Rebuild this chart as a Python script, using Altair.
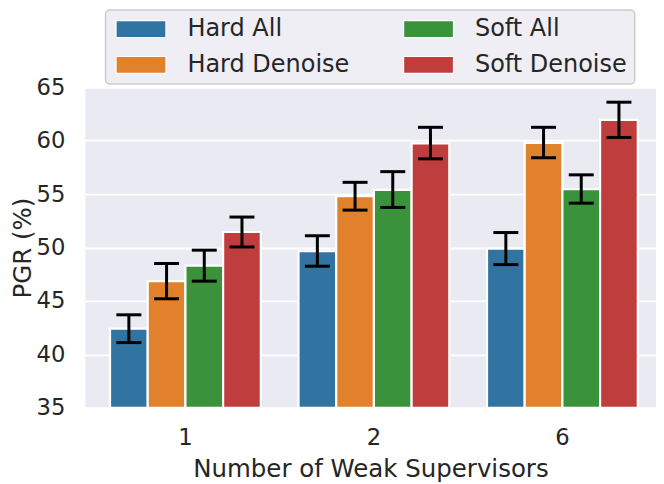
import altair as alt
import pandas as pd

# ---- data ----
groups = ["1", "2", "6"]
methods = ["Hard All", "Hard Denoise", "Soft All", "Soft Denoise"]
method_colors = ["#3274a1", "#e1812c", "#3a923a", "#c03d3e"]

hard_all = [42.4, 49.65, 49.9]
hard_all_lo = [41.1, 48.25, 48.4]
hard_all_hi = [43.7, 51.1, 51.4]

hard_denoise = [46.85, 54.8, 59.8]
hard_denoise_lo = [45.2, 53.5, 58.4]
hard_denoise_hi = [48.5, 56.1, 61.25]

soft_all = [48.3, 55.4, 55.45]
soft_all_lo = [46.85, 53.75, 54.15]
soft_all_hi = [49.75, 57.1, 56.8]

soft_denoise = [51.45, 59.75, 61.95]
soft_denoise_lo = [50.05, 58.3, 60.3]
soft_denoise_hi = [52.85, 61.25, 63.6]

y_ticks = [35, 40, 45, 50, 55, 60, 65]

series = {
    "Hard All": (hard_all, hard_all_lo, hard_all_hi),
    "Hard Denoise": (hard_denoise, hard_denoise_lo, hard_denoise_hi),
    "Soft All": (soft_all, soft_all_lo, soft_all_hi),
    "Soft Denoise": (soft_denoise, soft_denoise_lo, soft_denoise_hi),
}

rows = []
for i, g in enumerate(groups):
    for m in methods:
        v, lo, hi = series[m]
        rows.append({"group": g, "method": m, "value": v[i], "lo": lo[i], "hi": hi[i]})
df = pd.DataFrame(rows)

FONT = "DejaVu Sans"
TXT = "#262626"

x_enc = alt.X(
    "group:N",
    sort=groups,
    title="Number of Weak Supervisors",
    scale=alt.Scale(paddingInner=0.2, paddingOuter=0.115, align=0.58),
    axis=alt.Axis(labelAngle=0, labelPadding=19, titlePadding=8, grid=False),
)
xo_enc = alt.XOffset(
    "method:N", sort=methods,
    scale=alt.Scale(domain=methods, paddingInner=0, paddingOuter=0),
)
y_scale = alt.Scale(domain=[35, 65], nice=False, zero=False)

base = alt.Chart(df)

bars = base.mark_bar(stroke="white", strokeWidth=2.2).encode(
    x=x_enc,
    xOffset=xo_enc,
    y=alt.Y(
        "value:Q",
        scale=y_scale,
        title="PGR (%)",
        axis=alt.Axis(values=y_ticks, labelPadding=20, titlePadding=1, grid=True),
    ),
    y2=alt.datum(35),
    color=alt.Color(
        "method:N",
        scale=alt.Scale(domain=methods, range=method_colors),
        legend=alt.Legend(
            title=None,
            orient="none",
            legendX=20.7,
            legendY=-77.3,
            columns=2,
            symbolType="M-1,-1H4.88V1H-1Z",
            symbolSize=289,
            symbolStrokeColor="white",
            symbolStrokeWidth=1.2,
            symbolOpacity=1,
            labelFont=FONT,
            labelFontSize=24,
            labelColor=TXT,
            labelOffset=51,
            labelLimit=400,
            columnPadding=50,
            rowPadding=12,
            padding=7,
            fillColor="#EEEEF4",
            strokeColor="#CCCCCC",
            cornerRadius=4,
        ),
    ),
)

err = base.mark_rule(color="black", strokeWidth=3).encode(
    x=x_enc, xOffset=xo_enc,
    y=alt.Y("lo:Q", scale=y_scale),
    y2="hi:Q",
)
cap_lo = base.mark_tick(color="black", thickness=3, size=25, orient="horizontal", opacity=1).encode(
    x=x_enc, xOffset=xo_enc, y=alt.Y("lo:Q", scale=y_scale),
)
cap_hi = base.mark_tick(color="black", thickness=3, size=25, orient="horizontal", opacity=1).encode(
    x=x_enc, xOffset=xo_enc, y=alt.Y("hi:Q", scale=y_scale),
)

chart = (
    alt.layer(bars, err, cap_lo, cap_hi)
    .properties(width=572, height=321, padding={"left": 2, "top": 0, "right": 0, "bottom": 2})
    .configure_view(fill="#EAEAF2", stroke="transparent")
    .configure_axis(
        labelFont=FONT, titleFont=FONT,
        labelFontSize=22.7, titleFontSize=24.5,
        labelColor=TXT, titleColor=TXT,
        titleFontWeight="normal",
        domain=False, ticks=False, tickSize=0,
        gridColor="white", gridWidth=1.8, gridOpacity=1,
    )
    .configure_legend(strokeWidth=1.5)
)

chart.save("out.html", embed_options={"renderer": "svg", "actions": False})
